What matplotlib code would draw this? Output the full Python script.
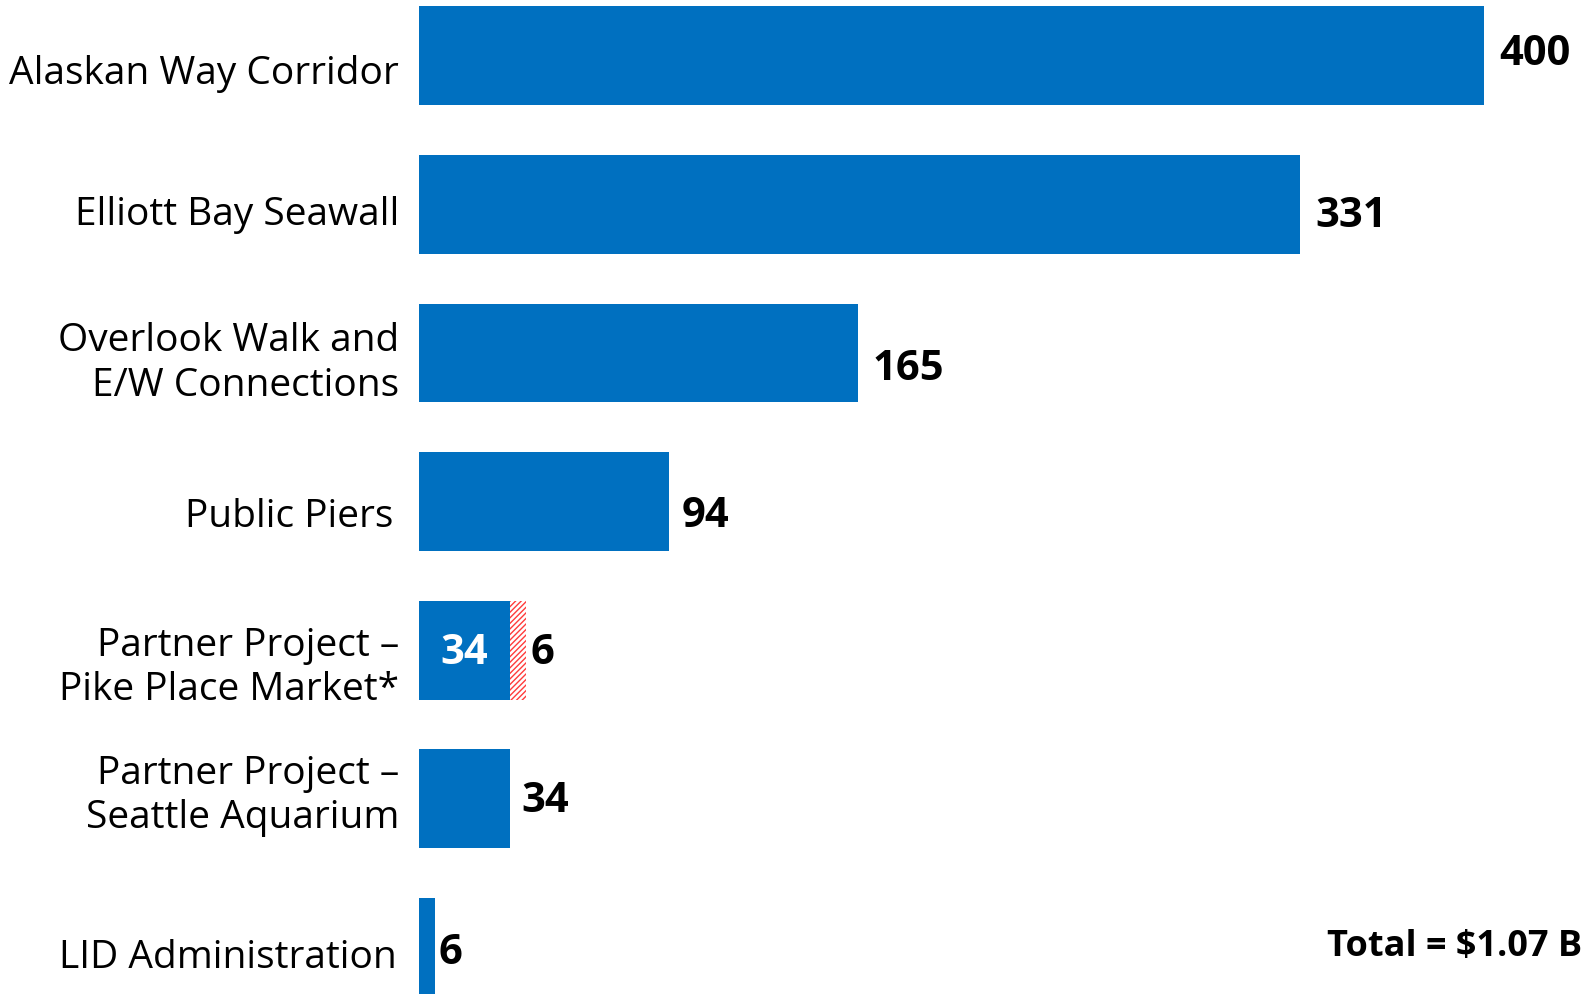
import matplotlib.pyplot as plt
import numpy as np

plt.rcParams["font.family"] = ["Open Sans", "DejaVu Sans"]

# data
categories = ["Alaskan Way Corridor", "Elliott Bay Seawall",
              "Overlook Walk and\nE/W Connections", "Public Piers",
              "Partner Project \u2013\nPike Place Market*",
              "Partner Project \u2013\nSeattle Aquarium", "LID Administration"]
values = [400, 331, 165, 94, 34, 34, 6]
extra = [0, 0, 0, 0, 6, 0, 0]          # hatched part (Pike Place)
total_text = "Total = $1.07 B"

blue = "#0070C0"
y = np.arange(len(categories))

fig = plt.figure(figsize=(15.92, 9.94), dpi=100)
ax = fig.add_axes([419/1592, 0, 1 - 419/1592, 1])

ax.barh(y, values, height=0.665, color=blue, linewidth=0)
ax.barh(y, extra, left=values, height=0.665, color="white",
        edgecolor="#FF3B3B", hatch="//////", linewidth=0)

ax.set_xlim(0, 440.5)
ax.set_ylim(len(categories) - 1 + 0.3125, -0.375)
ax.axis("off")

# value labels (slight nudges like the original)
lab_dy = [-0.01, 0.08, 0.11, 0.10, 0.0, 0.02, 0.04]
lab_dx = [5.5, 5.5, 5.5, 4.5, 0, 4.5, 1.5]
for i, (v, e) in enumerate(zip(values, extra)):
    if e:
        ax.text(v / 2, i + 0.02, str(v), color="white", fontsize=30,
                fontweight="bold", ha="center", va="center")
        ax.text(v + e + 1.8, i + 0.02, str(e), fontsize=30,
                fontweight="bold", ha="left", va="center")
    else:
        ax.text(v + lab_dx[i], i + lab_dy[i], str(v), fontsize=30,
                fontweight="bold", ha="left", va="center")

# category labels
cat_dy = [0.12, 0.07, 0.07, 0.10, 0.12, -0.02, 0.07]
cat_dx = [-7.5, -7.5, -7.5, -9.5, -7.5, -7.5, -8.5]
for i, c in enumerate(categories):
    ax.text(cat_dx[i], i + cat_dy[i], c, fontsize=28, ha="right",
            va="center", linespacing=1.22, clip_on=False)

fig.text(1582/1592, 1 - 947/994, total_text, fontsize=26,
         fontweight="bold", ha="right", va="center")

fig.savefig("out.png", dpi=100)
